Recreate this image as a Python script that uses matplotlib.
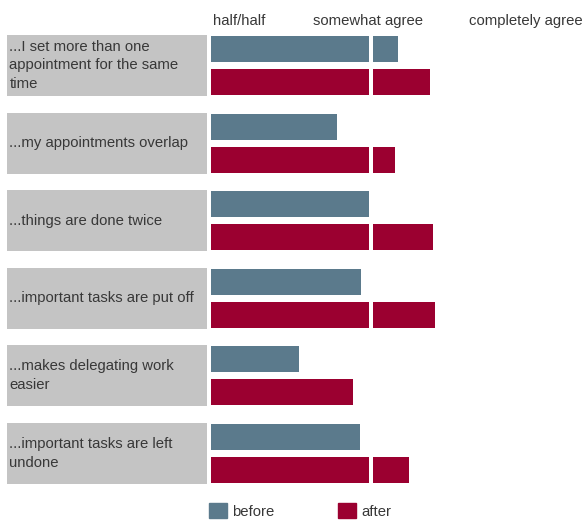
import numpy as np
import matplotlib
matplotlib.use("Agg")
import matplotlib.pyplot as plt
from matplotlib.patches import Patch

plt.rcParams['font.family'] = ['Liberation Sans', 'DejaVu Sans']

statements = ["...I set more than one\nappointment for the same\ntime",
              "...my appointments overlap",
              "...things are done twice",
              "...important tasks are put off",
              "...makes delegating work\neasier",
              "...important tasks are left\nundone"]
before = [4.17, 3.79, 3.99, 3.94, 3.55, 3.93]
after = [4.37, 4.15, 4.39, 4.40, 3.89, 4.24]
scale_labels = ["half/half", "somewhat agree", "completely agree"]

c_before = '#5b7a8c'
c_after = '#9b0030'
c_box = '#c4c4c4'
c_text = '#383838'
fs = 10.7

fig = plt.figure(figsize=(5.84, 5.22), dpi=100)
ax = fig.add_axes([0, 0, 1, 1])

base = 3.0     # bars start at "half/half"
split = 4.0    # white break at "somewhat agree"
gap = 0.011
off = 0.2126
h = 0.335

y = np.arange(len(statements))

# grey label boxes
ax.barh(y, 1.25, left=1.725, height=0.786, color=c_box, zorder=1)
for i, s in enumerate(statements):
    ax.text(1.74, i, s, ha='left', va='center', fontsize=fs,
            color=c_text, linespacing=1.45, zorder=3)

for vals, dy, col in [(before, -off, c_before), (after, off, c_after)]:
    vals = np.array(vals)
    left_w = np.minimum(vals, split - gap) - base
    ax.barh(y + dy, left_w, left=base, height=h, color=col, zorder=2)
    over = vals > split
    ax.barh((y + dy)[over], vals[over] - (split + gap), left=split + gap,
            height=h, color=col, zorder=2)

# scale labels on top
ax.text(3.01, -0.522, scale_labels[0], ha='left', va='baseline', fontsize=fs, color=c_text)
ax.text(3.98, -0.522, scale_labels[1], ha='center', va='baseline', fontsize=fs, color=c_text)
ax.text(5.325, -0.522, scale_labels[2], ha='right', va='baseline', fontsize=fs, color=c_text)

handles = [Patch(color=c_before, label='before'), Patch(color=c_after, label='after')]
leg = ax.legend(handles=handles, loc='center left', bbox_to_anchor=(0.358, 0.021),
                ncol=2, frameon=False, fontsize=fs, borderpad=0, borderaxespad=0,
                handlelength=1.2, handleheight=1.1, handletextpad=0.35,
                columnspacing=4.3)
for t in leg.get_texts():
    t.set_color(c_text)

ax.set_xlim(1.681, 5.331)
ax.set_ylim(5.883, -0.844)
ax.axis('off')

fig.savefig('out.png', dpi=100)
